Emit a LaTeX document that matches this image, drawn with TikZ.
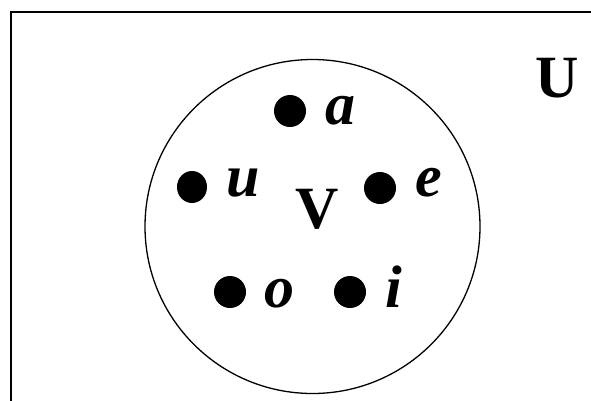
\documentclass[tikz,border=0pt]{standalone}
\usepackage{fontspec}
\setmainfont{Liberation Serif}
\begin{document}
\begin{tikzpicture}[x=1pt,y=-1pt,
  lbl/.style={anchor=base west,inner sep=0pt,font=\fontsize{60}{60}\selectfont\bfseries\itshape},
  big/.style={anchor=base west,inner sep=0pt,font=\fontsize{60}{60}\selectfont\bfseries},
  dot/.style={fill=black,draw=none}]
\useasboundingbox (0,0) rectangle (591,400);
\draw[line width=2.2pt] (11,420) -- (11,12) -- (610,12);
\draw[line width=1.3pt] (312.5,226.5) ellipse [x radius=167.5, y radius=167];
\node[big] (U) at (535,97) {U};
\node[big] (V) at (295,228) {V};
\fill[dot] (290,111) ellipse [x radius=16, y radius=16];
\node[lbl] (a) at (325,124) {a};
\fill[dot] (192,187) ellipse [x radius=15, y radius=16];
\node[lbl] (u) at (226,196) {u};
\fill[dot] (380,188) ellipse [x radius=16, y radius=16];
\node[lbl] (e) at (415,196) {e};
\fill[dot] (230,292) ellipse [x radius=16, y radius=16];
\node[lbl] (o) at (264,307) {o};
\fill[dot] (350,292) ellipse [x radius=16, y radius=16];
\node[lbl] (i) at (385,307) {i};
\end{tikzpicture}
\end{document}
